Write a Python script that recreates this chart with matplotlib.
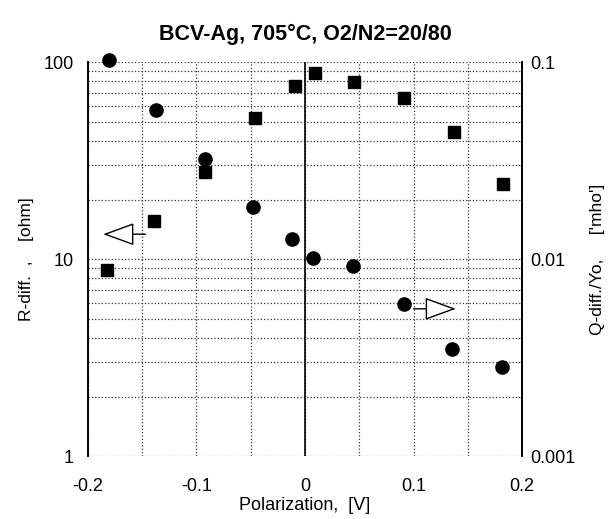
import matplotlib
matplotlib.use("Agg")
import matplotlib.pyplot as plt
from matplotlib.ticker import FixedLocator, NullFormatter

plt.rcParams['font.family'] = ['Liberation Sans', 'DejaVu Sans']

# data
v_sq = [-0.182, -0.139, -0.092, -0.046, -0.009, 0.009, 0.045, 0.091, 0.137, 0.182]
r_diff = [8.8, 15.7, 27.8, 52.0, 76.0, 88.0, 79.7, 65.6, 44.4, 24.0]
v_circ = [-0.181, -0.1375, -0.092, -0.0475, -0.012, 0.0075, 0.044, 0.091, 0.135, 0.181]
q_diff = [0.103, 0.057, 0.0323, 0.0185, 0.0126, 0.0102, 0.0092, 0.00596, 0.00352, 0.00285]
x_ticks = [-0.2, -0.1, 0, 0.1, 0.2]
x_ticklabels = ['-0.2', '-0.1', '0', '0.1', '0.2']

fig = plt.figure(figsize=(6.15, 5.19), dpi=100)
ax = fig.add_axes([0.143, 0.121, 0.706, 0.759])
ax2 = ax.twinx()

ax.set_xlim(-0.2, 0.2)
ax.set_yscale('log')
ax.set_ylim(1, 100)
ax2.set_yscale('log')
ax2.set_ylim(0.001, 0.1)

ax.xaxis.set_major_locator(FixedLocator(x_ticks))
ax.xaxis.set_minor_locator(FixedLocator([-0.15, -0.05, 0.05, 0.15]))
ax.set_xticklabels(x_ticklabels)
ax.set_yticks([1, 10, 100])
ax.set_yticklabels(['1', '10', '100'])
ax.yaxis.set_minor_formatter(NullFormatter())
ax2.set_yticks([0.001, 0.01, 0.1])
ax2.set_yticklabels(['0.001', '0.01', '0.1'])
ax2.yaxis.set_minor_formatter(NullFormatter())

for a in (ax, ax2):
    a.tick_params(which='both', length=0, labelsize=13)
    a.spines['top'].set_visible(False)
    a.spines['bottom'].set_visible(False)
    a.spines['left'].set_linewidth(1.2)
    a.spines['right'].set_linewidth(1.2)
ax.tick_params(axis='x', pad=16)
ax.tick_params(axis='y', pad=10)
ax2.tick_params(axis='y', pad=6)

ax.grid(True, which='both', axis='both', linestyle=':', color='#333333', linewidth=0.9)
ax.axvline(0, color='black', linewidth=1.2)

ax.plot(v_sq, r_diff, 's', color='black', markersize=9, clip_on=False, zorder=5)
ax2.plot(v_circ, q_diff, 'o', color='black', markersize=9.5, clip_on=False, zorder=5)

arrow = dict(arrowstyle='-|>,head_length=1.1,head_width=0.4', fc='white', ec='black',
             lw=1.0, mutation_scale=18, shrinkA=0, shrinkB=0)
ax.annotate('', xy=(-0.186, 13.4), xytext=(-0.147, 13.4), arrowprops=arrow)
ax2.annotate('', xy=(0.139, 0.0056), xytext=(0.1, 0.0056), arrowprops=arrow)

ax.set_title('BCV-Ag, 705°C, O2/N2=20/80', fontsize=15.5, fontweight='bold', pad=16)
ax.set_xlabel('Polarization,  [V]', fontsize=13, labelpad=1)
ax.set_ylabel('R-diff.  ,    [ohm]', fontsize=12.5, labelpad=7)
ax2.set_ylabel("Q-diff./Yo,     ['mho']", fontsize=12.5, labelpad=10)

fig.savefig('out.png', dpi=100)
